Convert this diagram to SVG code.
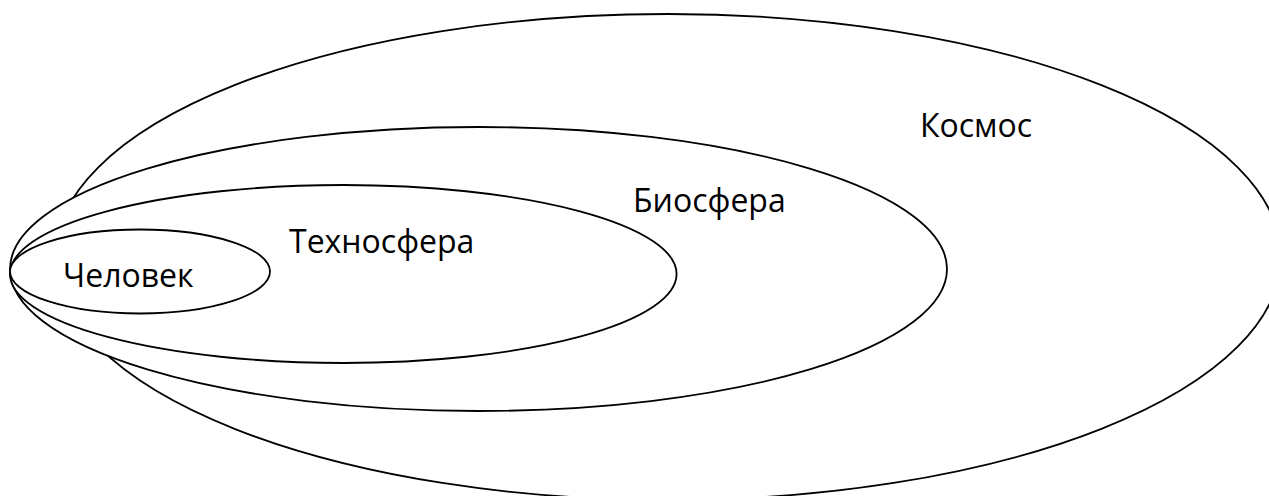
<svg xmlns="http://www.w3.org/2000/svg" width="1269" height="496" viewBox="0 0 1269 496">
  <style>
    .shape { fill: #ffffff; stroke: #000000; stroke-width: 1.8; }
    .label { font-family: "Open Sans", "Noto Sans", "Liberation Sans", sans-serif; font-size: 32px; fill: #000000; }
  </style>
  <rect x="0" y="0" width="1269" height="496" fill="#ffffff"/>
  <g id="kosmos">
    <ellipse class="shape" cx="668" cy="257" rx="613" ry="243"/>
    <text class="label" x="920" y="137">Космос</text>
  </g>
  <g id="biosfera">
    <ellipse class="shape" cx="478.5" cy="269" rx="468.5" ry="142"/>
    <text class="label" x="633" y="212">Биосфера</text>
  </g>
  <g id="tekhnosfera">
    <ellipse class="shape" cx="343.3" cy="274" rx="333.3" ry="89"/>
    <text class="label" x="289" y="253">Техносфера</text>
  </g>
  <g id="chelovek">
    <ellipse class="shape" cx="140" cy="271.5" rx="130" ry="42"/>
    <text class="label" x="63" y="287">Человек</text>
  </g>
  <g id="connectors"></g>
</svg>
